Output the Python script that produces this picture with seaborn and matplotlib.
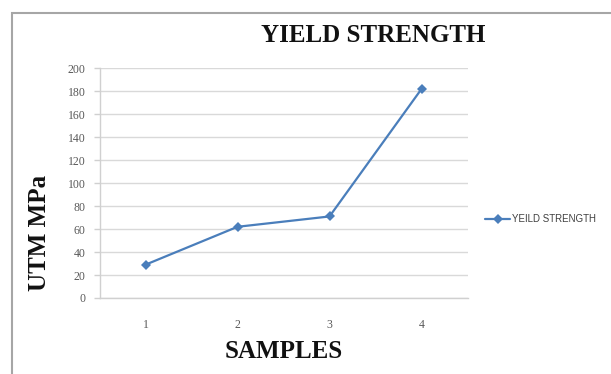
import matplotlib
matplotlib.use("Agg")
import matplotlib.pyplot as plt
import seaborn as sns
import pandas as pd
from matplotlib.patches import Rectangle

samples = [1, 2, 3, 4]
yield_strength = [29, 62, 71, 182]
y_ticks = [0, 20, 40, 60, 80, 100, 120, 140, 160, 180, 200]
series_name = "YEILD STRENGTH"
title = "YIELD STRENGTH"
x_label = "SAMPLES"
y_label = "UTM MPa"

df = pd.DataFrame({"Sample": samples, "Value": yield_strength, "Series": series_name})

sns.set_style("white")
plt.rcParams["font.family"] = ["Liberation Serif", "DejaVu Serif"]

W, H = 611, 374
fig = plt.figure(figsize=(W / 100, H / 100), dpi=100)
ax = fig.add_axes([99.5 / W, 1 - 298 / H, (467.5 - 99.5) / W, (298 - 68.3) / H])

sns.lineplot(data=df, x="Sample", y="Value", hue="Series", palette=["#4a7ebb"],
             marker="D", markersize=5.5, markeredgewidth=0, linewidth=1.6, ax=ax)

ax.set_xlim(0.5, 4.5)
ax.set_ylim(0, 200)
ax.set_xticks(samples)
ax.set_xticklabels([str(s) for s in samples])
ax.set_yticks(y_ticks)
ax.set_xlabel("")
ax.set_ylabel("")
ax.yaxis.grid(True, color="#d9d9d9", linewidth=1.0)
ax.xaxis.grid(False)
for s in ["top", "right"]:
    ax.spines[s].set_visible(False)
for s in ["left", "bottom"]:
    ax.spines[s].set_color("#d0d0d0")
    ax.spines[s].set_linewidth(1.0)
ax.tick_params(axis="y", which="both", length=4, color="#d0d0d0", width=1.0,
               labelsize=8.5, labelcolor="#595959", pad=6, left=True)
ax.tick_params(axis="x", which="both", length=0, labelsize=8.5,
               labelcolor="#595959", pad=15)

handles, labels = ax.get_legend_handles_labels()
leg = ax.legend(handles, labels, loc="center left",
                bbox_to_anchor=(485 / W, 1 - 219 / H), bbox_transform=fig.transFigure,
                frameon=False, handlelength=2.6, handletextpad=0.2,
                borderaxespad=0, borderpad=0,
                prop={"family": ["Liberation Sans", "DejaVu Sans"], "size": 7,
                      "stretch": "condensed"})
for t in leg.get_texts():
    t.set_color("#404040")

fig.text(373 / W, 1 - 36 / H, title, ha="center", va="center",
         fontsize=18, fontweight="bold", color="#111111")
fig.text(284 / W, 1 - 352 / H, x_label, ha="center", va="center",
         fontsize=18, fontweight="bold", color="#111111")
fig.text(39 / W, 1 - 233 / H, y_label, ha="center", va="center", rotation=90,
         fontsize=18, fontweight="bold", color="#111111")

fig.patches.append(Rectangle((12 / W, -0.1), 1.2, 1.1 - 13 / H,
                             transform=fig.transFigure, fill=False,
                             edgecolor="#a6a6a6", linewidth=1.5, clip_on=False))

fig.savefig("out.png", dpi=100)
